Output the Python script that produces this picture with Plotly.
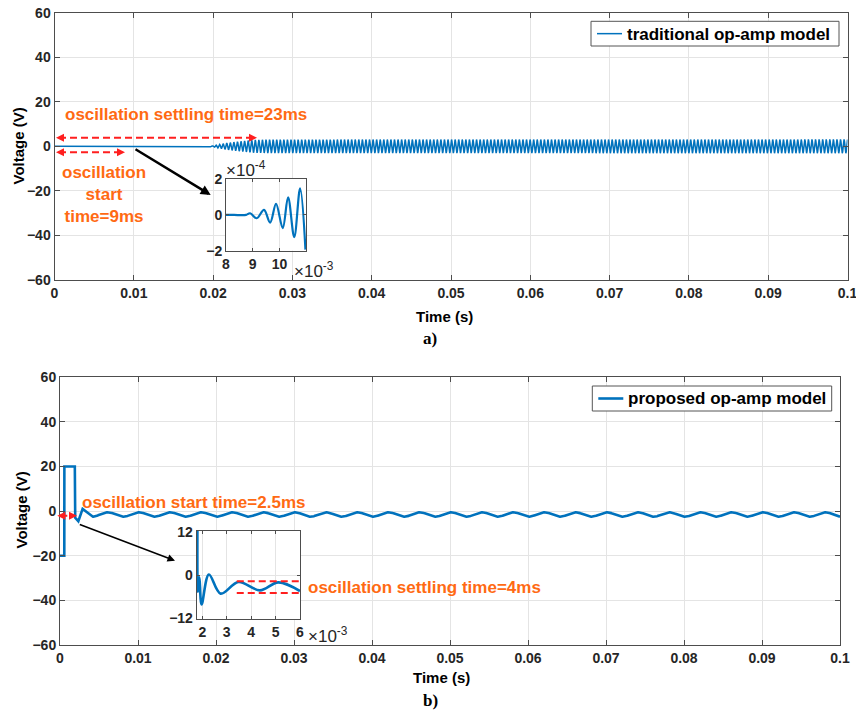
import numpy as np
import plotly.graph_objects as go

W, H = 856, 716

# ---------------- data ----------------
TIME_TICKS = [0.0, 0.01, 0.02, 0.03, 0.04, 0.05, 0.06, 0.07, 0.08, 0.09, 0.1]
TIME_TICK_TEXT = ["0", "0.01", "0.02", "0.03", "0.04", "0.05", "0.06", "0.07", "0.08", "0.09", "0.1"]
VOLT_TICKS = [-60, -40, -20, 0, 20, 40, 60]
SERIES_NAMES = ["traditional op-amp model", "proposed op-amp model"]

# a) traditional op-amp model: oscillation envelope (s, V) and period (s)
TOP_ENV_T = [0.0, 0.019, 0.020, 0.0217, 0.0234, 0.025, 0.027, 0.1]
TOP_ENV_A = [0.0, 0.0, 0.3, 1.5, 2.25, 2.85, 3.05, 3.1]
TOP_PERIOD = 0.00045

# b) proposed op-amp model: start-up points, then steady oscillation
BOT_START_T = [0.0, 0.00055, 0.00056, 0.0019, 0.00195, 0.00235, 0.0029, 0.0041]
BOT_START_V = [-20.0, -20.0, 20.0, 20.0, -3.0, -4.5, 1.0, -2.5]
BOT_MEAN = -1.5
BOT_AMP = 1.0
BOT_PERIOD = 0.004

# inset a (time in 1e-3 s, voltage in 1e-4 V)
INSET_A_T = [8.0, 8.3, 8.6, 8.75, 8.9, 9.15, 9.42, 9.65, 9.87, 10.12, 10.32, 10.55, 10.77, 10.97]
INSET_A_V = [0.0, 0.0, -0.02, 0.0, 0.09, -0.19, 0.28, -0.43, 0.61, -0.74, 0.98, -1.24, 1.48, -1.94]
INSET_A_XTICKS = [8, 9, 10]
INSET_A_YTICKS = [-2, 0, 2]

# inset b (time in 1e-3 s, voltage in V)
INSET_B_T = [1.80, 1.82, 1.88, 1.97, 2.27, 2.75, 3.48, 4.36, 5.11, 6.0]
INSET_B_V = [14.0, -4.6, -0.6, -8.1, 0.2, -5.1, -1.9, -4.2, -2.0, -4.4]
INSET_B_XTICKS = [2, 3, 4, 5, 6]
INSET_B_YTICKS = [-12, 0, 12]
INSET_B_BAND = [-1.7, -4.9]
INSET_B_BAND_T = [3.41, 6.0]

# ---------------- build series ----------------
t_top = np.linspace(0.0, 0.1, 12001)
v_top = np.interp(t_top, TOP_ENV_T, TOP_ENV_A) * np.sin(2 * np.pi * t_top / TOP_PERIOD)

t_ss = np.linspace(BOT_START_T[-1], 0.1, 3000)
v_ss = BOT_MEAN - BOT_AMP * np.cos(2 * np.pi * (t_ss - BOT_START_T[-1]) / BOT_PERIOD)
t_bot = np.concatenate([BOT_START_T[:-1], t_ss])
v_bot = np.concatenate([BOT_START_V[:-1], v_ss])

# ---------------- style ----------------
FONT = "Liberation Sans"
SERIF = "Liberation Serif"
BLUE = "#0072BD"
ORANGE = "#FF6A13"
RED = "#FF1F1F"
AXC = "#4d4d4d"
GRID = "#e4e4e4"
TXT = "#262626"
DASH = "7px,4px"
W_TOP, W_BOT = 1.5, 2.6


def px_x(x):
    return x / W


def px_y(y):
    return 1 - y / H


def dom_x(a, b):
    return [a / W, b / W]


def dom_y(top, bottom):
    return [1 - bottom / H, 1 - top / H]


def axis(size=14, **kw):
    d = dict(showline=True, linecolor=AXC, linewidth=1, mirror="ticks", ticks="inside",
             ticklen=5, tickcolor=AXC, showgrid=True, gridcolor=GRID, gridwidth=1,
             zeroline=False, automargin=False, ticklabeloverflow="allow",
             tickfont=dict(family=FONT, size=size, color=TXT, weight="bold"))
    d.update(kw)
    return d


fig = go.Figure()

fig.add_trace(go.Scatter(x=t_top, y=v_top, mode="lines", line=dict(color=BLUE, width=W_TOP),
                         name=SERIES_NAMES[0], xaxis="x", yaxis="y", showlegend=False))
fig.add_trace(go.Scatter(x=INSET_A_T, y=INSET_A_V, mode="lines", line=dict(color=BLUE, width=2.2, shape="spline"),
                         showlegend=False, xaxis="x2", yaxis="y2"))
fig.add_trace(go.Scatter(x=t_bot, y=v_bot, mode="lines", line=dict(color=BLUE, width=W_BOT),
                         name=SERIES_NAMES[1], xaxis="x3", yaxis="y3", showlegend=False))
fig.add_trace(go.Scatter(x=INSET_B_T, y=INSET_B_V, mode="lines", line=dict(color=BLUE, width=2.6, shape="spline"),
                         showlegend=False, xaxis="x4", yaxis="y4"))

layout = dict(
    width=W, height=H, margin=dict(l=0, r=0, t=0, b=0, autoexpand=False),
    paper_bgcolor="white", plot_bgcolor="white", showlegend=False,
    xaxis=axis(domain=dom_x(54.5, 847.5), anchor="y", range=[0, 0.1],
               tickvals=TIME_TICKS, ticktext=TIME_TICK_TEXT),
    yaxis=axis(domain=dom_y(12.7, 280), anchor="x", range=[-60, 60], tickvals=VOLT_TICKS),
    xaxis2=axis(size=14, domain=dom_x(226, 306), anchor="y2", range=[8, 10.99], tickvals=INSET_A_XTICKS,
                ticklen=3),
    yaxis2=axis(size=14, domain=dom_y(179, 250.7), anchor="x2", range=[-2, 2], tickvals=INSET_A_YTICKS,
                ticklen=3),
    xaxis3=axis(domain=dom_x(60, 840), anchor="y3", range=[0, 0.1],
                tickvals=TIME_TICKS, ticktext=TIME_TICK_TEXT),
    yaxis3=axis(domain=dom_y(377.3, 645), anchor="x3", range=[-60, 60], tickvals=VOLT_TICKS),
    xaxis4=axis(size=14, domain=dom_x(196.7, 300), anchor="y4", range=[1.77, 6.0], tickvals=INSET_B_XTICKS,
                ticklen=3),
    yaxis4=axis(size=14, domain=dom_y(531, 619.3), anchor="x4", range=[-12.2, 12.2], tickvals=INSET_B_YTICKS,
                ticklen=3),
)
fig.update_layout(**layout)

ann = []
shapes = []


def text(x, y, s, size=17, color=ORANGE, xanchor="left", bold=True, family=FONT, angle=0, align="left"):
    ann.append(dict(x=px_x(x), y=px_y(y), xref="paper", yref="paper", text=s, showarrow=False,
                    xanchor=xanchor, yanchor="middle", textangle=angle, align=align,
                    font=dict(family=family, size=size, color=color, weight="bold" if bold else "normal")))


def arrow(head, tail, color, width, size=1.0, style=2):
    ann.append(dict(x=px_x(head[0]), y=px_y(head[1]), xref="paper", yref="paper", text="",
                    showarrow=True, ax=tail[0] - head[0], ay=tail[1] - head[1], axref="pixel", ayref="pixel",
                    arrowhead=style, arrowsize=size, arrowwidth=width, arrowcolor=color, standoff=0))


def dashed_double(x0, x1, y):
    shapes.append(dict(type="line", xref="paper", yref="paper", x0=px_x(x0 + 3), x1=px_x(x1 - 3),
                       y0=px_y(y), y1=px_y(y), line=dict(color=RED, width=2, dash=DASH)))
    arrow((x0, y), (x0 + 9, y), RED, 1.6, 1.0, 2)
    arrow((x1, y), (x1 - 9, y), RED, 1.6, 1.0, 2)


def legend_box(x0, x1, y0, y1, line_x0, line_x1, label, lw):
    yc = (y0 + y1) / 2
    shapes.append(dict(type="rect", xref="paper", yref="paper", x0=px_x(x0), x1=px_x(x1),
                       y0=px_y(y1), y1=px_y(y0), fillcolor="white", line=dict(color="#555", width=1)))
    shapes.append(dict(type="line", xref="paper", yref="paper", x0=px_x(line_x0), x1=px_x(line_x1),
                       y0=px_y(yc), y1=px_y(yc), line=dict(color=BLUE, width=lw)))
    text(line_x1 + 3, yc + 0.5, label, size=17, color="black")


# legends
legend_box(591, 839, 21.3, 46, 597, 622, SERIES_NAMES[0], W_TOP)
legend_box(592.3, 831.7, 386, 411, 598.3, 623.3, SERIES_NAMES[1], W_BOT)

# axis titles and panel labels
text(444, 316.5, "Time (s)", size=15, color="black", xanchor="center")
text(430, 338, "a)", size=17, color="black", xanchor="center", family=SERIF)
text(441, 677, "Time (s)", size=15, color="black", xanchor="center")
text(430, 700, "b)", size=17, color="black", xanchor="center", family=SERIF)
text(17.5, 146, "Voltage (V)", size=15, color="black", xanchor="center", angle=-90)
text(20.5, 510, "Voltage (V)", size=15, color="black", xanchor="center", angle=-90)

# panel a annotations
text(63, 115, "oscillation settling time=23ms")
text(104, 195, "oscillation<br>start<br>time=9ms", xanchor="center", align="center")
dashed_double(56, 257, 137.7)
dashed_double(56, 125, 152.3)
arrow((210.7, 195), (134, 148.3), "black", 2.5, 0.8, 2)
text(224, 169, "×10<sup>-4</sup>", size=17, color=TXT, bold=False)
text(292, 270, "×10<sup>-3</sup>", size=17, color=TXT, bold=False)

# panel b annotations
text(80, 502.7, "oscillation start time=2.5ms")
dashed_double(57.3, 77, 515.7)
arrow((175, 560.7), (78.3, 524), "black", 1.5, 1.0, 2)
text(306, 587.7, "oscillation settling time=4ms")
text(306, 635, "×10<sup>-3</sup>", size=17, color=TXT, bold=False)
for yv in INSET_B_BAND:
    shapes.append(dict(type="line", xref="x4", yref="y4", x0=INSET_B_BAND_T[0], x1=INSET_B_BAND_T[1],
                       y0=yv, y1=yv, line=dict(color=RED, width=2, dash=DASH)))

fig.update_layout(annotations=ann, shapes=shapes)
fig.write_html("out.html", config={"displayModeBar": False},
               post_script="document.body.style.margin='0';document.body.style.overflow='hidden';")
